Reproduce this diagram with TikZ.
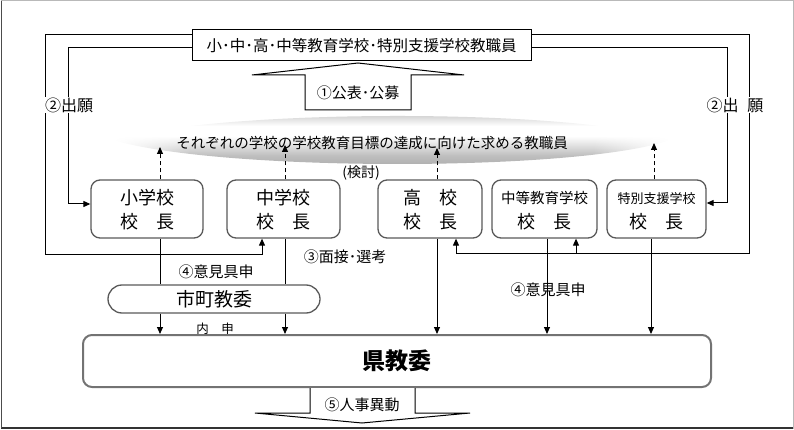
\documentclass[tikz,border=0pt]{standalone}
\usepackage{fontspec}
\setmainfont{Noto Sans CJK JP}
\usetikzlibrary{arrows.meta,calc,fadings}
\pgfdeclareverticalshading{cylshade}{100bp}{color(0bp)=(gray!72); color(25bp)=(gray!72); color(38bp)=(gray!50); color(53bp)=(white); color(61bp)=(white); color(75bp)=(gray!58); color(100bp)=(gray!58)}
\pgfdeclarehorizontalshading{hfs}{100bp}{color(0bp)=(pgftransparent!100); color(25bp)=(pgftransparent!100); color(32bp)=(pgftransparent!0); color(68bp)=(pgftransparent!0); color(75bp)=(pgftransparent!100); color(100bp)=(pgftransparent!100)}
\pgfdeclarefading{hfade}{\pgfuseshading{hfs}}
\tikzset{
  ln/.style={line width=1pt, black},
  arr/.style={ln, -{Triangle[length=7pt,width=6pt]}},
  darr/.style={ln, dashed, dash pattern=on 4pt off 3pt, -{Triangle[length=7pt,width=6pt]}},
  pbox/.style={draw=black!65, line width=1.3pt, rounded corners=9pt, minimum height=58pt, inner sep=0pt},
  big/.style={font=\fontsize{18}{18}\selectfont},
  lab/.style={font=\fontsize{15}{15}\selectfont, inner sep=1pt},
  blk/.style={line width=1pt, black, fill=white, line join=miter}
}
\begin{document}
\begin{tikzpicture}[x=1pt,y=-1pt]
\useasboundingbox (0,0) rectangle (794,430);
% frame
\draw[gray!55, line width=1pt] (1,1) rectangle (793,428);
\draw[black!80, line width=1.5pt] (1,428) -- (793,428);
\draw[black!70, line width=1pt] (1,1) -- (1,428);

% goal lens
\shade[shading=cylshade, path fading=hfade]
  (113,140) .. controls (220,108) and (580,108) .. (671,140)
  .. controls (580,172) and (220,172) .. (113,140) -- cycle;
\node[font=\fontsize{14.5}{14.5}\selectfont] (goal) at (372,143) {それぞれの学校の学校教育目標の達成に向けた求める教職員};
\node[font=\fontsize{14}{14}\selectfont] (kento) at (361,173) {(検討)};

% top box
\node[draw=black, line width=1pt, minimum width=339pt, minimum height=31pt, inner sep=0pt,
      font=\fontsize{15.5}{15.5}\selectfont] (top) at (361.5,45.5) {小･中･高･中等教育学校･特別支援学校教職員};

% up block arrow
\draw[blk] (305,110) -- (305,75) -- (252,75) -- (358,63) -- (464,75) -- (411,75) -- (411,110) -- cycle;
\node[lab] (kohyo) at (358,93) {①公表･公募};

% principal boxes
\node[pbox, minimum width=112pt] (sho) at (147,209) {};
\node[pbox, minimum width=113pt] (chu) at (283.5,209) {};
\node[pbox, minimum width=104pt] (ko) at (430,209) {};
\node[pbox, minimum width=105pt] (chuto) at (544.5,209) {};
\node[pbox, minimum width=99pt] (toku) at (656.5,209) {};

\node[big] (sho1) at (147,198) {小学校};
\node[big] (sho2) at (147,222) {校　長};
\node[big] (chu1) at (283.5,198) {中学校};
\node[big] (chu2) at (283.5,222) {校　長};
\node[big] (ko1) at (430,198) {高　校};
\node[big] (ko2) at (430,222) {校　長};
\node[font=\fontsize{14.5}{14.5}\selectfont] (chuto1) at (544.5,198) {中等教育学校};
\node[big] (chuto2) at (544.5,222) {校　長};
\node[font=\fontsize{13}{13}\selectfont] (toku1) at (656.5,199) {特別支援学校};
\node[big] (toku2) at (656.5,222) {校　長};

% dashed arrows to goal
\draw[darr] (160,0 |- sho.north) -- (160,147);
\draw[darr] (285,0 |- chu.north) -- (285,145);
\draw[darr] (437,0 |- ko.north) -- (437,148);
\draw[darr] (654,0 |- toku.north) -- (654,143);

% application lines left
\draw[arr] (top.west |- 0,35) -- (45,35) -- (45,254) -- (262,254) -- (262,0 |- chu.south);
\draw[arr] (top.west |- 0,48) -- (68,48) -- (68,204) -- (sho.west |- 0,204);
\node[font=\fontsize{16}{16}\selectfont, fill=white, inner sep=1pt] (shutsu1) at (69,105) {②出願};

% application lines right
\draw[ln] (top.east |- 0,35) -- (749,35) -- (749,253) -- (456,253);
\draw[arr] (456,253) -- (456,0 |- ko.south);
\draw[arr] (576,253) -- (576,0 |- chuto.south);
\draw[arr] (top.east |- 0,48) -- (727,48) -- (727,203) -- (toku.east |- 0,203);
\node[font=\fontsize{16}{16}\selectfont, fill=white, inner sep=1pt] (shutsu2) at (735,105) {②出\hspace{0.55em}願};

\node[lab] (mensetsu) at (345,257) {③面接･選考};

% city board
\node[draw=black!65, line width=1.3pt, rounded corners=14pt, minimum width=212pt, minimum height=28pt,
      inner sep=0pt, font=\fontsize{19}{19}\selectfont] (shicho) at (214,299) {市町教委};

% prefectural board
\node[draw=black!55, line width=2pt, rounded corners=9pt, minimum width=628pt, minimum height=52pt,
      inner sep=0pt, font=\bfseries\fontsize{23}{23}\selectfont] (ken) at (397,361) {県教委};

% vertical lines
\draw[ln] (160,0 |- sho.south) -- (160,0 |- shicho.north);
\draw[arr] (160,0 |- shicho.south) -- (160,0 |- ken.north);
\draw[ln] (285,0 |- chu.south) -- (285,0 |- shicho.north);
\draw[arr] (285,0 |- shicho.south) -- (285,0 |- ken.north);
\draw[arr] (437,0 |- ko.south) -- (437,0 |- ken.north);
\draw[arr] (547,0 |- chuto.south) -- (547,0 |- ken.north);
\draw[arr] (651,0 |- toku.south) -- (651,0 |- ken.north);

\node[lab] (iken1) at (216,272) {④意見具申};
\node[lab] (iken2) at (548,290) {④意見具申};
\node[font=\fontsize{12.5}{12.5}\selectfont, inner sep=0pt] (naishin) at (215,329) {内　申};

% down block arrow
\draw[blk] (310,0 |- ken.south) -- (310,413) -- (255,413) -- (362,423) -- (470,413) -- (415,413) -- (415,0 |- ken.south);
\node[lab] (jinji) at (362,405) {⑤人事異動};
\end{tikzpicture}
\end{document}
